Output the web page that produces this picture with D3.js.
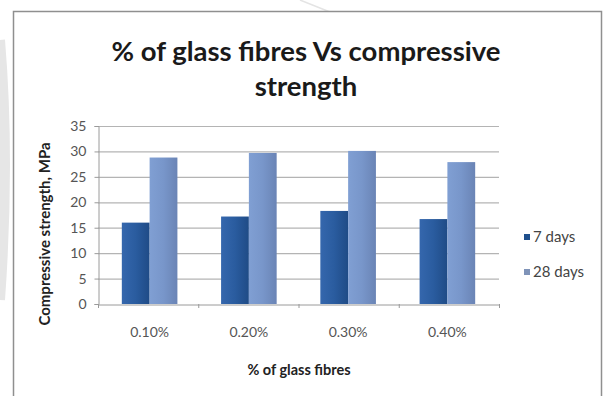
<!DOCTYPE html>
<html>
<head>
<meta charset="utf-8">
<script src="https://cdn.jsdelivr.net/npm/d3@7"></script>
<style>
  html, body { margin: 0; padding: 0; background: #ffffff; }
  svg { display: block; }
  text { font-family: Lato, "Open Sans", sans-serif; }
</style>
</head>
<body>
<script>
// Compressive strength (MPa) by glass-fibre content, at two curing ages
const categories = ["0.10%", "0.20%", "0.30%", "0.40%"];
const seriesNames = ["7 days", "28 days"];
const days7 = [16.0, 17.2, 18.3, 16.7];
const days28 = [28.8, 29.7, 30.1, 27.9];
const yTicks = [0, 5, 10, 15, 20, 25, 30, 35];

const W = 604, H = 396;
const plot = { left: 98, right: 499, top: 126, bottom: 304 };

const svg = d3.select("body").append("svg")
  .attr("width", W).attr("height", H);

// Faint backdrop outside the chart frame
svg.append("rect").attr("width", W).attr("height", H).attr("fill", "#ffffff");
svg.append("path")
  .attr("d", "M0,40 Q10,160 0,300")
  .attr("fill", "none").attr("stroke", "#e6e6e6").attr("stroke-width", 10);
svg.append("path")
  .attr("d", "M300,0 L330,12 M730,0 L760,12")
  .attr("fill", "none").attr("stroke", "#e4e4e4").attr("stroke-width", 1.5);

// Chart frame
svg.append("rect")
  .attr("x", 13.5).attr("y", 11.5)
  .attr("width", 588).attr("height", 400)
  .attr("fill", "#ffffff")
  .attr("stroke", "#8f8f8f").attr("stroke-width", 1.5);

// Bar gradients
const defs = svg.append("defs");
const grads = [
  { id: "g7", stops: ["#3567ad", "#2a5c9f", "#1f4b86"] },
  { id: "g28", stops: ["#809fd3", "#7896ca", "#6a84b5"] }
];
grads.forEach(g => {
  const lg = defs.append("linearGradient").attr("id", g.id)
    .attr("x1", "0").attr("y1", "0").attr("x2", "1").attr("y2", "0");
  g.stops.forEach((c, i) => lg.append("stop")
    .attr("offset", (i / (g.stops.length - 1) * 100) + "%")
    .attr("stop-color", c));
});

const x0 = d3.scaleBand().domain(categories)
  .range([plot.left, plot.right]).paddingInner(0.44).paddingOuter(0.24);
const x1 = d3.scaleBand().domain(seriesNames)
  .range([0, x0.bandwidth()]).padding(0);
const y = d3.scaleLinear().domain([0, 35]).range([plot.bottom, plot.top]);

// Gridlines
svg.append("g").selectAll("line").data(yTicks.filter(d => d > 0)).join("line")
  .attr("x1", plot.left).attr("x2", plot.right)
  .attr("y1", d => y(d) + 0.5).attr("y2", d => y(d) + 0.5)
  .attr("stroke", "#b4b4b4").attr("stroke-width", 1.2);

// Y axis
const yAxis = svg.append("g")
  .attr("transform", `translate(${plot.left + 0.5},0)`)
  .call(d3.axisLeft(y).tickValues(yTicks).tickSize(4).tickPadding(8));
yAxis.select(".domain").attr("stroke", "#9a9a9a");
yAxis.selectAll(".tick line").attr("stroke", "#9a9a9a");
yAxis.selectAll("text").attr("font-size", 14).attr("fill", "#555555")
  .attr("font-family", "Lato, sans-serif");

// Bars
const rows = categories.map((c, i) => ({ cat: c, vals: [days7[i], days28[i]] }));
const groups = svg.append("g").selectAll("g").data(rows).join("g")
  .attr("transform", d => `translate(${x0(d.cat)},0)`);
groups.selectAll("rect")
  .data(d => d.vals.map((v, j) => ({ name: seriesNames[j], v })))
  .join("rect")
  .attr("x", d => x1(d.name))
  .attr("y", d => y(d.v))
  .attr("width", x1.bandwidth())
  .attr("height", d => y(0) - y(d.v))
  .attr("fill", d => d.name === "7 days" ? "url(#g7)" : "url(#g28)");

// X axis
const xAxis = svg.append("g")
  .attr("transform", `translate(0,${plot.bottom + 0.5})`)
  .call(d3.axisBottom(x0).tickSize(0).tickPadding(23));
xAxis.select(".domain").attr("stroke", "#9a9a9a");
xAxis.selectAll("text").attr("font-size", 14).attr("fill", "#555555")
  .attr("font-family", "Lato, sans-serif");
// Category divider ticks
const step = x0.step();
svg.append("g").selectAll("line").data(d3.range(categories.length + 1)).join("line")
  .attr("x1", i => plot.left + i * (plot.right - plot.left) / categories.length + 0.5)
  .attr("x2", i => plot.left + i * (plot.right - plot.left) / categories.length + 0.5)
  .attr("y1", plot.bottom).attr("y2", plot.bottom + 4)
  .attr("stroke", "#9a9a9a");

// Titles
const title = svg.append("text")
  .attr("text-anchor", "middle")
  .attr("font-weight", "bold").attr("font-size", 27.5).attr("fill", "#1a1a1a");
title.append("tspan").attr("x", 306).attr("y", 61).text("% of glass fibres Vs compressive");
title.append("tspan").attr("x", 306).attr("y", 96).text("strength");

svg.append("text")
  .attr("x", 299).attr("y", 375)
  .attr("text-anchor", "middle")
  .attr("font-weight", "bold").attr("font-size", 14.5).attr("fill", "#222222")
  .text("% of glass fibres");

svg.append("text")
  .attr("transform", "translate(50,234) rotate(-90)")
  .attr("text-anchor", "middle")
  .attr("font-weight", "bold").attr("font-size", 15).attr("fill", "#222222")
  .text("Compressive strength, MPa");

// Legend
const legendColors = ["#1f4f8c", "#7f93b8"];
const legend = svg.append("g").selectAll("g").data(seriesNames).join("g")
  .attr("transform", (d, i) => `translate(524,${237 + i * 35})`);
legend.append("rect")
  .attr("x", 0).attr("y", -3).attr("width", 6).attr("height", 6)
  .attr("fill", (d, i) => legendColors[i]);
legend.append("text")
  .attr("x", 9).attr("y", 0).attr("dy", "0.35em")
  .attr("font-size", 15).attr("fill", "#444444")
  .text(d => d);
</script>
</body>
</html>
